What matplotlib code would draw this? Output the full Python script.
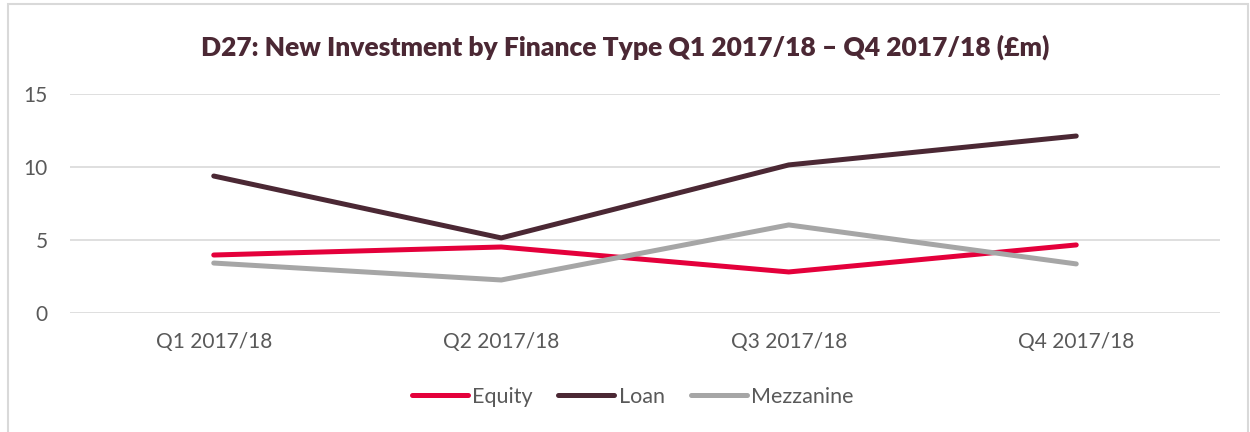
import matplotlib
matplotlib.use("Agg")
import matplotlib.pyplot as plt
from matplotlib.patches import Rectangle

# data
quarters = ["Q1 2017/18", "Q2 2017/18", "Q3 2017/18", "Q4 2017/18"]
equity = [3.97, 4.52, 2.81, 4.66]
loan = [9.38, 5.14, 10.14, 12.12]
mezzanine = [3.42, 2.26, 6.03, 3.36]

plt.rcParams['font.family'] = ['Lato', 'DejaVu Sans']

fig = plt.figure(figsize=(12.5, 4.32), dpi=100)
ax = fig.add_axes([0.056, 0.2755, 0.92, 0.507])

x = range(len(quarters))
ax.plot(x, equity, color='#e4003b', lw=3.6, solid_capstyle='round', label='Equity')
ax.plot(x, loan, color='#4b2834', lw=3.6, solid_capstyle='round', label='Loan')
ax.plot(x, mezzanine, color='#a6a6a6', lw=3.6, solid_capstyle='round', label='Mezzanine')

ax.set_xlim(-0.5, 3.5)
ax.set_ylim(0, 15)
ax.set_yticks([0, 5, 10, 15])
ax.set_xticks(list(x))
ax.set_xticklabels(quarters)
ax.grid(axis='y', color='#d9d9d9', lw=1.2)
ax.set_axisbelow(True)
for s in ax.spines.values():
    s.set_visible(False)
ax.tick_params(length=0, labelsize=15, colors='#595959')
ax.tick_params(axis='x', pad=14)
ax.tick_params(axis='y', pad=16)

fig.text(0.5, 0.89, "D27: New Investment by Finance Type Q1 2017/18 \u2013 Q4 2017/18 (\u00a3m)",
         ha='center', va='center', fontsize=19, fontweight='heavy', color='#4b2834')

leg = fig.legend(loc='center', bbox_to_anchor=(0.506, 0.081), ncol=3, frameon=False,
                 fontsize=15.5, handlelength=2.6, handletextpad=0.2, columnspacing=1.2)
for t in leg.get_texts():
    t.set_color('#595959')

# outer chart border
fig.patches.append(Rectangle((0.0064, -0.01), 0.992, 1.0, transform=fig.transFigure,
                             fill=False, edgecolor='#d9d9d9', lw=1.5))

fig.savefig("out.png", dpi=100)
